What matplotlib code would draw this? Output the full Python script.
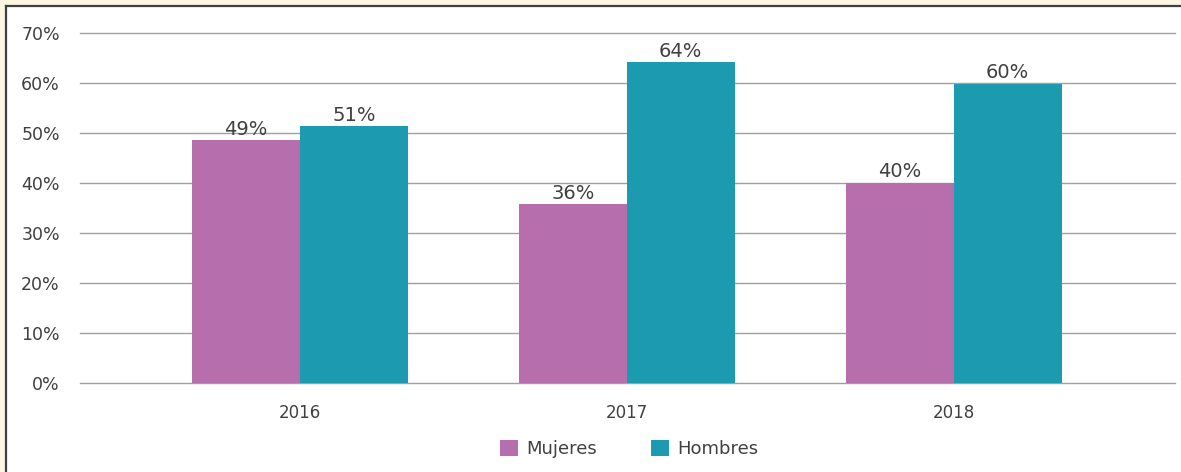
import matplotlib
matplotlib.use("Agg")
import matplotlib.pyplot as plt
from matplotlib.patches import Rectangle
from matplotlib.lines import Line2D
import numpy as np

years = ["2016", "2017", "2018"]
series_names = ["Mujeres", "Hombres"]
mujeres = [48.6, 35.8, 40.1]
hombres = [51.4, 64.2, 59.9]
labels_m = ["49%", "36%", "40%"]
labels_h = ["51%", "64%", "60%"]
colors = ["#B76EAC", "#1C9AB0"]
yticks = [0, 10, 20, 30, 40, 50, 60, 70]

plt.rcParams["font.family"] = ["DejaVu Sans"]

W, H = 1181, 472
fig = plt.figure(figsize=(W / 100, H / 100), dpi=100)
fig.patch.set_facecolor("#FDF6E3")
# white panel with dark top/left border
fig.patches.append(Rectangle((6 / W, 0), 1 - 6 / W, 1 - 6 / H, transform=fig.transFigure,
                             facecolor="white", edgecolor="none", zorder=-5))
fig.lines.append(Line2D([6 / W, 6 / W], [0, 1 - 6 / H], transform=fig.transFigure,
                        color="#404040", lw=1.6, zorder=-4))
fig.lines.append(Line2D([6 / W, 1], [1 - 6 / H, 1 - 6 / H], transform=fig.transFigure,
                        color="#404040", lw=1.6, zorder=-4))

ax = fig.add_axes([80 / W, 1 - 383 / H, (1175 - 80) / W, (383 - 33) / H])
ax.set_zorder(2)
ax.set_facecolor("none")
x = np.arange(len(years))
bw = 0.33
b1 = ax.bar(x - bw / 2, mujeres, bw, color=colors[0], label=series_names[0], zorder=3)
b2 = ax.bar(x + bw / 2, hombres, bw, color=colors[1], label=series_names[1], zorder=3)
txtc = "#404040"
for rect, lab in zip(b1, labels_m):
    ax.text(rect.get_x() + rect.get_width() / 2, rect.get_height() + 0.2, lab,
            ha="center", va="bottom", fontsize=14, color=txtc)
for rect, lab in zip(b2, labels_h):
    ax.text(rect.get_x() + rect.get_width() / 2, rect.get_height() + 0.2, lab,
            ha="center", va="bottom", fontsize=14, color=txtc)

ax.set_ylim(0, 70)
ax.set_xlim(-0.673, 2.677)
ax.set_yticks(yticks)
ax.set_yticklabels([f"{v}%" for v in yticks], fontsize=12.5, color=txtc)
ax.set_xticks(x)
ax.set_xticklabels(years, fontsize=12, color=txtc)
ax.tick_params(axis="both", length=0)
ax.tick_params(axis="y", pad=14.5)
ax.tick_params(axis="x", pad=15)
ax.grid(axis="y", color="#A0A0A0", lw=1.0, zorder=0)
for gl in ax.get_ygridlines():
    gl.set_clip_on(False)
for s in ax.spines.values():
    s.set_visible(False)

fig.legend(handles=[b1, b2], labels=series_names, loc="center", bbox_to_anchor=(629 / W, 1 - 449 / H),
           ncol=2, frameon=False, fontsize=13, handlelength=1.0, handleheight=1.0,
           columnspacing=3.0, handletextpad=0.45, labelcolor=txtc)

fig.savefig("out.png", dpi=100, facecolor=fig.get_facecolor())
